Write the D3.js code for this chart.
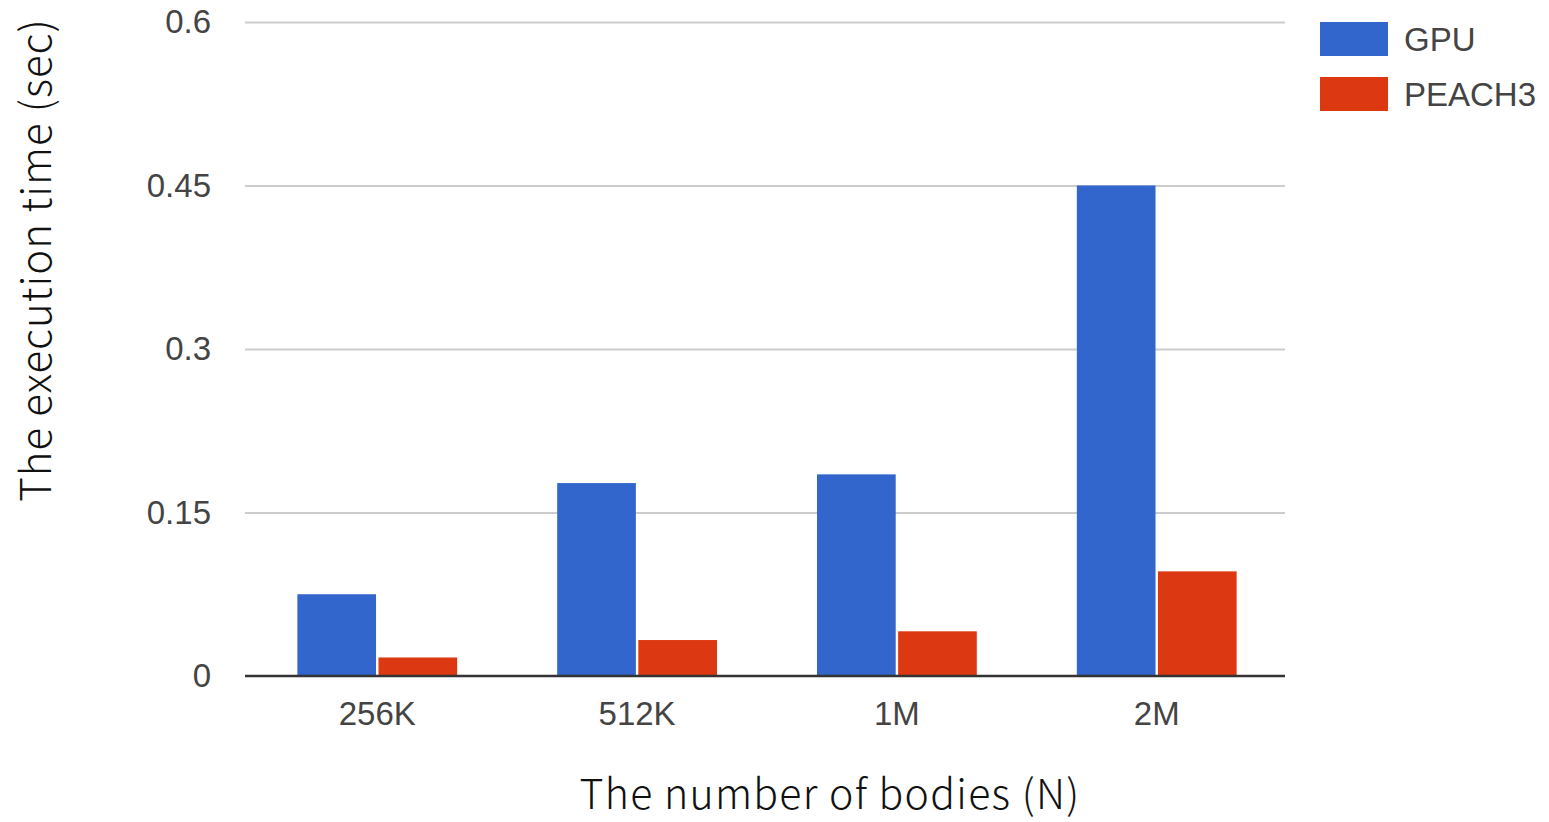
<!DOCTYPE html>
<html><head><meta charset="utf-8">
<script src="https://cdn.jsdelivr.net/npm/d3@7/dist/d3.min.js"></script>
<style>body{margin:0;background:#fff}svg{display:block}</style>
</head><body>
<script>
const categories = ["256K", "512K", "1M", "2M"];
const seriesNames = ["GPU", "PEACH3"];
const gpuValues = [0.075, 0.177, 0.185, 0.450];
const peachValues = [0.017, 0.033, 0.041, 0.096];
const yTicks = [0, 0.15, 0.3, 0.45, 0.6];
const yTickLabels = ["0", "0.15", "0.3", "0.45", "0.6"];
const colors = ["#3366cc", "#dc3912"];

const W = 1549, H = 822;
const plot = {left: 245, right: 1285, top: 22, bottom: 676};
const svg = d3.select("body").append("svg").attr("width", W).attr("height", H);

const x = d3.scaleBand().domain(categories).range([plot.left + 3, plot.right + 1]).paddingInner(0.385).paddingOuter(0.19);
const xs = d3.scaleBand().domain(seriesNames).range([0, x.bandwidth()]).paddingInner(0.03);
const y = d3.scaleLinear().domain([0, 0.6]).range([plot.bottom, plot.top]);

// gridlines
const grid = d3.axisLeft(y).tickValues(yTicks.slice(1)).tickSize(-(plot.right - plot.left)).tickFormat("");
svg.append("g").attr("transform", `translate(${plot.left},0)`).call(grid)
  .call(g => g.select(".domain").remove())
  .call(g => g.selectAll("line").attr("stroke", "#cccccc").attr("stroke-width", 2));

// y tick labels
const yAxis = d3.axisLeft(y).tickValues(yTicks).tickSize(0).tickPadding(34)
  .tickFormat((d, i) => yTickLabels[i]);
svg.append("g").attr("transform", `translate(${plot.left},0)`).call(yAxis)
  .call(g => g.select(".domain").remove())
  .call(g => g.selectAll("text").attr("font-family", "Liberation Sans, Arial, sans-serif")
    .attr("font-size", 33).attr("fill", "#444"));

// bars
const data = categories.map((c, i) => ({cat: c, vals: [gpuValues[i], peachValues[i]]}));
const groups = svg.append("g").selectAll("g").data(data).join("g")
  .attr("transform", d => `translate(${x(d.cat)},0)`);
groups.selectAll("rect").data(d => d.vals.map((v, j) => ({s: seriesNames[j], v, j}))).join("rect")
  .attr("x", d => xs(d.s)).attr("width", xs.bandwidth())
  .attr("y", d => y(d.v)).attr("height", d => y(0) - y(d.v))
  .attr("fill", d => colors[d.j]);

// baseline + x labels
const xAxis = d3.axisBottom(x).tickSize(0).tickPadding(26);
svg.append("g").attr("transform", `translate(0,${plot.bottom})`).call(xAxis)
  .call(g => g.select(".domain").attr("stroke", "#333").attr("stroke-width", 2.5)
     .attr("d", `M${plot.left},0H${plot.right}`))
  .call(g => g.selectAll("text").attr("font-family", "Liberation Sans, Arial, sans-serif")
    .attr("font-size", 33).attr("fill", "#444"));

// legend
const legend = svg.append("g").attr("transform", "translate(1320,22)");
seriesNames.forEach((s, i) => {
  const g = legend.append("g").attr("transform", `translate(0,${i * 55})`);
  g.append("rect").attr("width", 68).attr("height", 34).attr("fill", colors[i]);
  g.append("text").attr("x", 84).attr("y", 17).attr("dy", "0.36em")
    .attr("font-family", "Liberation Sans, Arial, sans-serif").attr("font-size", 33).attr("fill", "#444").text(s);
});

// axis titles
svg.append("text").attr("transform", "translate(51,260) rotate(-90)").attr("text-anchor", "middle")
  .attr("font-family", "Noto Sans CJK JP, sans-serif").attr("font-weight", 300).attr("font-size", 42)
  .attr("letter-spacing", 1).attr("fill", "#111")
  .text("The execution time (sec)");
svg.append("text").attr("x", 830).attr("y", 809).attr("text-anchor", "middle")
  .attr("font-family", "Noto Sans CJK JP, sans-serif").attr("font-weight", 300).attr("font-size", 41)
  .attr("letter-spacing", 1.3).attr("fill", "#111")
  .text("The number of bodies (N)");
</script>
</body></html>
